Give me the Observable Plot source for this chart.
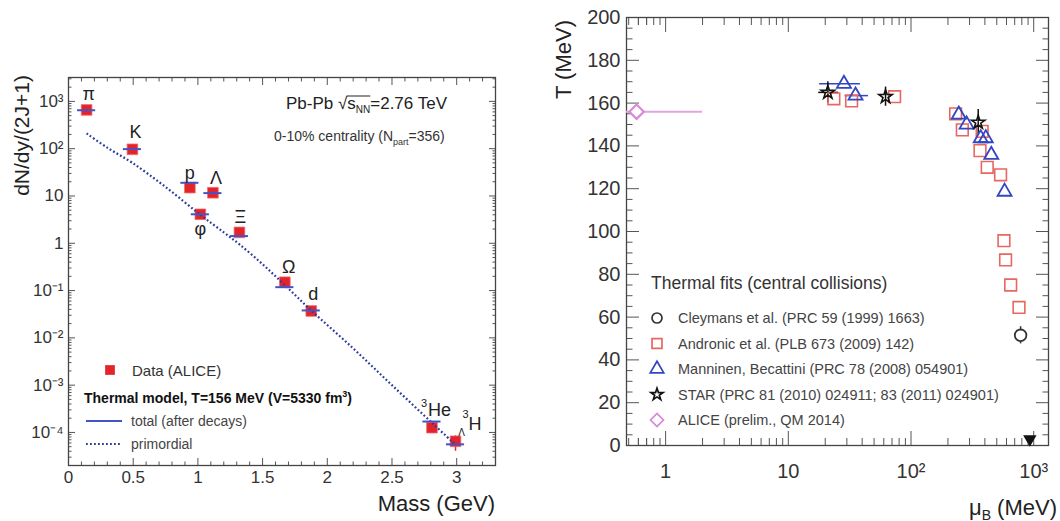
<!DOCTYPE html>
<html><head><meta charset="utf-8">
<script src="https://cdn.jsdelivr.net/npm/d3@7"></script>
<script src="https://cdn.jsdelivr.net/npm/@observablehq/plot@0.6"></script>
<style>
body{margin:0;background:#fff;}
#wrap{display:flex;width:1060px;height:521px;background:#fff;}
</style></head><body><div id="wrap"></div>
<script>
const FONT = '"Liberation Sans", Arial, Helvetica, sans-serif';

// ---------- Left panel: yields vs mass ----------
const particles = ["π","K","p","φ","Λ","Ξ","Ω","d","³He","³ΛH"];
const mass = [0.140, 0.494, 0.938, 1.019, 1.116, 1.321, 1.672, 1.876, 2.809, 2.991];
const dataYield = [660, 97, 15, 4.1, 11.7, 1.7, 0.15, 0.037, 1.26e-4, 6.5e-5];
const dataErrLo = [610, 90, 13.8, 3.8, 10.9, 1.56, 0.135, 0.034, 1.08e-4, 4.0e-5];
const dataErrHi = [710, 104, 16.2, 4.4, 12.5, 1.84, 0.165, 0.040, 1.46e-4, 8.5e-5];
const modelYield = [650, 98, 19, 4.1, 11.5, 1.42, 0.118, 0.038, 1.7e-4, 5.6e-5];
const primordialMass = [0.14, 0.30, 0.494, 0.75, 1.019, 1.20, 1.321, 1.50, 1.672, 1.876, 2.20, 2.50, 2.809, 2.991];
const primordialYield = [210, 105, 50, 15.5, 4.0, 1.7, 0.95, 0.36, 0.13, 0.038, 6.0e-3, 1.0e-3, 1.6e-4, 5.5e-5];
const massTicks = [0, 0.5, 1, 1.5, 2, 2.5, 3];
const massTickLabels = ["0", "0.5", "1", "1.5", "2", "2.5", "3"];
const yieldTicks = [1e-4, 1e-3, 1e-2, 1e-1, 1, 10, 100, 1000];
const yieldTickLabels = ["10⁻⁴", "10⁻³", "10⁻²", "10⁻¹", "1", "10", "10²", "10³"];

// ---------- Right panel: T vs muB ----------
const cleymansMu = [782];
const cleymansT = [51.5];
const cleymansTErr = [4];
const andronicMu = [23.5, 32.8, 73.5, 231, 262, 380, 365, 418, 537, 572, 590, 649, 759];
const andronicT = [162, 161, 163, 155, 147.5, 146.8, 137.8, 130, 126.5, 95.7, 86.7, 75, 64.5];
const manninenMu = [28.4, 35.3, 245, 284, 370, 407, 451, 579];
const manninenT = [169, 163.5, 154.6, 150, 143.6, 143.6, 135.8, 118.6];
const manninenMuLo = [18, 29, null, null, null, null, null, null];
const manninenMuHi = [38.7, 45, null, null, null, null, null, null];
const starMu = [21, 62, 353];
const starT = [165, 163, 151];
const starTErr = [5, 4.5, 6];
const starMuLo = [17.7, null, null];
const starMuHi = [25.7, null, null];
const aliceMu = [0.58];
const aliceT = [156];
const aliceTErr = [3];
const aliceMuLo = [0.3];
const aliceMuHi = [2.0];
const nuclearMu = [930];
const nuclearT = [3];
const muTicks = [1, 10, 100, 1000];
const muTickLabels = ["1", "10", "10²", "10³"];
const TTicks = [0, 20, 40, 60, 80, 100, 120, 140, 160, 180, 200];
const TTickLabels = ["0", "20", "40", "60", "80", "100", "120", "140", "160", "180", "200"];

const idx = a => a.map((_, i) => i);
const lab = (ticks, labels) => d => labels[ticks.indexOf(d)];
const blank = () => "";

// minor tick positions (axis decoration only)
const massMinor = d3.range(0, 34).map(k => k / 10).filter(v => v <= 3.3 && Math.abs(v * 2 - Math.round(v * 2)) > 1e-6);
const yieldMinor = [];
for (let e = -5; e <= 3; e++) for (let m = 2; m <= 9; m++) { const v = m * Math.pow(10, e); if (v >= 2e-5 && v <= 3.2e3) yieldMinor.push(v); }
const muMinor = [];
for (let e = -1; e <= 3; e++) for (let m = 2; m <= 9; m++) { const v = m * Math.pow(10, e); if (v >= 0.48 && v <= 1320) muMinor.push(v); }
muMinor.push(...[0.5,0.6,0.7,0.8,0.9].filter(v => !muMinor.includes(v)));
const TMinor = d3.range(5, 200, 5).filter(v => v % 20 !== 0);

const axisStroke = "#555";
const blue = "#4355c6";
const dotBlue = "#2d3c9e";

const pIdx = idx(particles);
const labelOffset = {
  "π": [2, -16], "K": [3, -17], "p": [0, -14], "φ": [0, 15], "Λ": [3, -15],
  "Ξ": [1, -15], "Ω": [4, -15], "d": [2, -17]
};

const left = Plot.plot({
  width: 535, height: 521,
  marginLeft: 68, marginRight: 40, marginTop: 77, marginBottom: 56,
  style: {fontFamily: FONT, fontSize: "17px", background: "#fff", color: "#333", overflow: "visible"},
  x: {domain: [0, 3.3]},
  y: {type: "log", domain: [2e-5, 3.2e3]},
  marks: [
    Plot.axisX({anchor: "bottom", ticks: massTicks, tickFormat: lab(massTicks, massTickLabels), tickSize: -7, tickPadding: 12, label: null, stroke: axisStroke}),
    Plot.axisX({anchor: "bottom", ticks: massMinor, tickFormat: blank, tickSize: -3.5, label: null, stroke: axisStroke}),
    Plot.axisX({anchor: "top", ticks: massTicks, tickFormat: blank, tickSize: -7, label: null, stroke: axisStroke}),
    Plot.axisX({anchor: "top", ticks: massMinor, tickFormat: blank, tickSize: -3.5, label: null, stroke: axisStroke}),
    Plot.axisY({anchor: "left", ticks: yieldTicks, tickFormat: lab(yieldTicks, yieldTickLabels), tickSize: -7, tickPadding: 12, label: null, stroke: axisStroke}),
    Plot.axisY({anchor: "left", ticks: yieldMinor, tickFormat: blank, tickSize: -3.5, label: null, stroke: axisStroke}),
    Plot.axisY({anchor: "right", ticks: yieldTicks, tickFormat: blank, tickSize: -7, label: null, stroke: axisStroke}),
    Plot.axisY({anchor: "right", ticks: yieldMinor, tickFormat: blank, tickSize: -3.5, label: null, stroke: axisStroke}),
    Plot.frame({stroke: "#444", strokeWidth: 1.3}),
    Plot.ruleX(pIdx, {x: i => mass[i], y1: i => dataErrLo[i], y2: i => dataErrHi[i], stroke: "#e2262c", strokeWidth: 1.5}),
    Plot.dot(pIdx, {x: i => mass[i], y: i => dataYield[i], symbol: "square", r: 6, fill: "#e3242b", stroke: "#ee6a6a", strokeWidth: 0.8}),
    Plot.line(idx(primordialMass), {x: i => primordialMass[i], y: i => primordialYield[i], curve: "catmull-rom", stroke: dotBlue, strokeWidth: 2.2, strokeDasharray: "1.8 2.2", strokeLinecap: "butt"}),
    Plot.ruleY(pIdx, {y: i => modelYield[i], x1: i => mass[i] - 0.07, x2: i => mass[i] + 0.07, stroke: blue, strokeWidth: 2}),
    ...pIdx.filter(i => labelOffset[particles[i]]).map(i => Plot.text([i], {
      x: j => mass[j], y: j => dataYield[j], text: j => particles[j],
      dx: labelOffset[particles[i]][0], dy: labelOffset[particles[i]][1],
      fontSize: 18, fill: "#222"
    })),
    Plot.text([8], {x: j => mass[j], y: j => dataYield[j], text: () => "He", dx: -4, dy: -17, fontSize: 18, fill: "#222", textAnchor: "start"}),
    Plot.text([8], {x: j => mass[j], y: j => dataYield[j], text: () => "3", dx: -11, dy: -24, fontSize: 11, fill: "#222", textAnchor: "start"}),
    Plot.text([9], {x: j => mass[j], y: j => dataYield[j], text: () => "H", dx: 13, dy: -17, fontSize: 18, fill: "#222", textAnchor: "start"}),
    Plot.text([9], {x: j => mass[j], y: j => dataYield[j], text: () => "3", dx: 7, dy: -27, fontSize: 11, fill: "#222", textAnchor: "start"}),
    Plot.text([9], {x: j => mass[j], y: j => dataYield[j], text: () => "Λ", dx: 6, dy: -8, fontSize: 10, fill: "#222"})
  ]
});

const rIdx = a => idx(a);
const hasErr = (lo) => idx(lo).filter(i => lo[i] != null);
const sqCol = "#e8675f", triCol = "#3346c2", pink = "#d98ad6";

const right = Plot.plot({
  width: 525, height: 521,
  marginLeft: 91, marginRight: 12, marginTop: 17, marginBottom: 76,
  style: {fontFamily: FONT, fontSize: "20px", background: "#fff", color: "#333", overflow: "visible"},
  x: {type: "log", domain: [0.48, 1320]},
  y: {domain: [0, 200]},
  marks: [
    Plot.axisX({anchor: "bottom", ticks: muTicks, tickFormat: lab(muTicks, muTickLabels), tickSize: -14, tickPadding: 32, label: null, stroke: axisStroke}),
    Plot.axisX({anchor: "bottom", ticks: muMinor, tickFormat: blank, tickSize: -7, label: null, stroke: axisStroke}),
    Plot.axisX({anchor: "top", ticks: muTicks, tickFormat: blank, tickSize: -14, label: null, stroke: axisStroke}),
    Plot.axisX({anchor: "top", ticks: muMinor, tickFormat: blank, tickSize: -7, label: null, stroke: axisStroke}),
    Plot.axisY({anchor: "left", ticks: TTicks, tickFormat: lab(TTicks, TTickLabels), tickSize: -13, tickPadding: 19, label: null, stroke: axisStroke}),
    Plot.axisY({anchor: "left", ticks: TMinor, tickFormat: blank, tickSize: -6.5, label: null, stroke: axisStroke}),
    Plot.axisY({anchor: "right", ticks: TTicks, tickFormat: blank, tickSize: -13, label: null, stroke: axisStroke}),
    Plot.axisY({anchor: "right", ticks: TMinor, tickFormat: blank, tickSize: -6.5, label: null, stroke: axisStroke}),
    Plot.frame({stroke: "#444", strokeWidth: 1.3}),
    // ALICE
    Plot.ruleY(rIdx(aliceMu), {y: i => aliceT[i], x1: i => aliceMuLo[i], x2: i => aliceMuHi[i], stroke: "#e2a6de", strokeWidth: 2, clip: true}),
    Plot.ruleX(rIdx(aliceMu), {x: i => aliceMu[i], y1: i => aliceT[i] - aliceTErr[i], y2: i => aliceT[i] + aliceTErr[i], stroke: "#e2a6de", strokeWidth: 2}),
    Plot.dot(rIdx(aliceMu), {x: i => aliceMu[i], y: i => aliceT[i], symbol: "diamond2", r: 6.5, stroke: pink, strokeWidth: 2.2, fill: "#fff"}),
    // Manninen error bars
    Plot.ruleY(hasErr(manninenMuLo), {y: i => manninenT[i], x1: i => manninenMuLo[i], x2: i => manninenMuHi[i], stroke: triCol, strokeWidth: 1.5}),
    // STAR error bars
    Plot.ruleY(hasErr(starMuLo), {y: i => starT[i], x1: i => starMuLo[i], x2: i => starMuHi[i], stroke: "#111", strokeWidth: 1.5}),
    Plot.ruleX(rIdx(starMu), {x: i => starMu[i], y1: i => starT[i] - starTErr[i], y2: i => starT[i] + starTErr[i], stroke: "#111", strokeWidth: 1.5}),
    // Cleymans error bar
    Plot.ruleX(rIdx(cleymansMu), {x: i => cleymansMu[i], y1: i => cleymansT[i] - cleymansTErr[i], y2: i => cleymansT[i] + cleymansTErr[i], stroke: "#333", strokeWidth: 1.5}),
    // Andronic
    Plot.dot(rIdx(andronicMu), {x: i => andronicMu[i], y: i => andronicT[i], symbol: "square", r: 6.6, stroke: sqCol, strokeWidth: 1.6, fill: "none"}),
    // Manninen
    Plot.dot(rIdx(manninenMu), {x: i => manninenMu[i], y: i => manninenT[i], symbol: "triangle", r: 5.2, stroke: triCol, strokeWidth: 1.8, fill: "none"}),
    // STAR
    Plot.dot(rIdx(starMu), {x: i => starMu[i], y: i => starT[i], symbol: "star", r: 4.2, stroke: "#111", strokeWidth: 1.6, fill: "none"}),
    // Cleymans
    Plot.dot(rIdx(cleymansMu), {x: i => cleymansMu[i], y: i => cleymansT[i], symbol: "circle", r: 5.8, stroke: "#333", strokeWidth: 1.8, fill: "#fff"}),
    // nuclear ground state marker
    Plot.dot(rIdx(nuclearMu), {x: i => nuclearMu[i], y: i => nuclearT[i], symbol: "triangle", r: 5, fill: "#111", rotate: 180})
  ]
});

const wrap = document.getElementById("wrap");
wrap.appendChild(left);
wrap.appendChild(right);

function rich(svg, x, y, parts, o = {}) {
  const t = d3.select(svg).append("text")
    .attr("x", x).attr("y", y)
    .attr("font-family", FONT).attr("font-size", o.size || 14)
    .attr("fill", o.fill || "#222")
    .attr("text-anchor", o.anchor || "start")
    .style("white-space", "pre");
  if (o.weight) t.attr("font-weight", o.weight);
  if (o.transform) t.attr("transform", o.transform);
  if (o.dy) t.attr("dy", o.dy);
  parts.forEach(p => {
    const s = t.append("tspan").text(p.t);
    if (p.size) s.attr("font-size", p.size);
    if (p.dy) s.attr("dy", p.dy);
  });
  return t;
}

// ----- Left annotations -----
const pb = rich(left, 286, 109, [{t: "Pb-Pb √"}, {t: "s"}, {t: "NN", size: 10, dy: 4}, {t: "=2.76 TeV", dy: -4}], {size: 17, fill: "#222"});
try {
  const n = pb.node();
  const ext = n.getExtentOfChar(6);
  const x1 = n.getEndPositionOfChar(6).x - 0.5;
  const x2 = n.getStartPositionOfChar(10).x;
  d3.select(left).append("line").attr("x1", x1).attr("x2", x2).attr("y1", ext.y + 2).attr("y2", ext.y + 2).attr("stroke", "#222").attr("stroke-width", 1);
} catch (e) {}
rich(left, 274, 141, [{t: "0-10% centrality (N"}, {t: "part", size: 9, dy: 4}, {t: "=356)", dy: -4}], {size: 14, fill: "#333"});

const lg = d3.select(left).append("g");
lg.append("path").attr("transform", "translate(110,370)").attr("d", d3.symbol(d3.symbolSquare, Math.PI * 30)()).attr("fill", "#e3242b");
rich(left, 132, 375.5, [{t: "Data (ALICE)"}], {size: 15, fill: "#333"});
rich(left, 84, 403, [{t: "Thermal model, T=156 MeV (V=5330 fm"}, {t: "3", size: 9, dy: -6}, {t: ")", dy: 6}], {size: 14, weight: "bold", fill: "#111"});
lg.append("line").attr("x1", 86).attr("x2", 122).attr("y1", 421).attr("y2", 421).attr("stroke", blue).attr("stroke-width", 2);
rich(left, 131, 426, [{t: "total (after decays)"}], {size: 14, fill: "#444"});
lg.append("line").attr("x1", 86).attr("x2", 122).attr("y1", 444).attr("y2", 444).attr("stroke", dotBlue).attr("stroke-width", 2.2).attr("stroke-dasharray", "1.8 2.2");
rich(left, 131, 449, [{t: "primordial"}], {size: 14, fill: "#444"});

rich(left, 0, 0, [{t: "dN/dy/(2J+1)"}], {size: 21, anchor: "end", transform: "translate(22,75) rotate(-90)", dy: "0.35em", fill: "#222"});
rich(left, 495, 511, [{t: "Mass (GeV)"}], {size: 22, anchor: "end", fill: "#222"});

// ----- Right annotations -----
rich(right, 0, 0, [{t: "T (MeV)"}], {size: 22, anchor: "end", transform: "translate(28,20) rotate(-90)", dy: "0.35em", fill: "#222"});
rich(right, 522, 515, [{t: "μ"}, {t: "B", size: 14, dy: 5}, {t: " (MeV)", dy: -5}], {size: 22, anchor: "end", fill: "#222"});
rich(right, 116, 289, [{t: "Thermal fits (central collisions)"}], {size: 17.5, fill: "#333"});

const legendItems = [
  {text: "Cleymans et al. (PRC 59 (1999) 1663)", sym: d3.symbolCircle, r: 5, stroke: "#333", fill: "none"},
  {text: "Andronic et al. (PLB 673 (2009) 142)", sym: d3.symbolSquare, r: 5.6, stroke: sqCol, fill: "none"},
  {text: "Manninen, Becattini (PRC 78 (2008) 054901)", sym: d3.symbolTriangle, r: 5, stroke: triCol, fill: "none"},
  {text: "STAR (PRC 81 (2010) 024911; 83 (2011) 024901)", sym: d3.symbolStar, r: 3.8, stroke: "#111", fill: "none"},
  {text: "ALICE (prelim., QM 2014)", sym: d3.symbolSquare, r: 5.2, stroke: pink, fill: "none", rot: 45}
];
const rg = d3.select(right).append("g");
legendItems.forEach((it, k) => {
  const cy = 318 + k * 25.5;
  rg.append("path")
    .attr("transform", `translate(122,${cy})` + (it.rot ? ` rotate(${it.rot})` : ""))
    .attr("d", d3.symbol(it.sym, Math.PI * it.r * it.r)())
    .attr("fill", it.fill).attr("stroke", it.stroke).attr("stroke-width", 1.7);
  rich(right, 143, cy + 5, [{t: it.text}], {size: 14.5, fill: "#444"});
});
</script>
</body></html>
